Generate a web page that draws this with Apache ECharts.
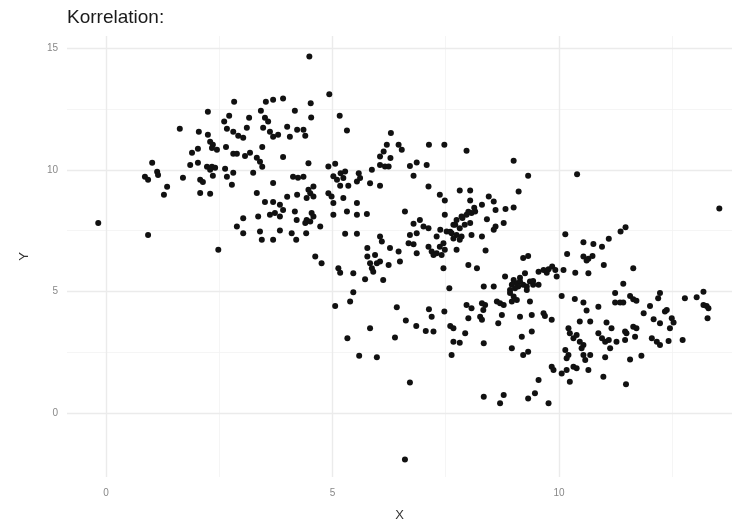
<!DOCTYPE html>
<html>
<head>
<meta charset="utf-8">
<title>Korrelation</title>
<script src="https://cdn.jsdelivr.net/npm/echarts@6/dist/echarts.min.js"></script>
<style>
  html, body { margin: 0; padding: 0; background: #fff; }
  #chart { width: 738px; height: 523px; }
</style>
</head>
<body>
<div id="chart"></div>
<script>
// points, grouped by area of the plot ([x, y])
const upperLeft = [
  [2.83,12.8],[2.25,12.39],[3.53,12.8],[3.69,12.88],[3.91,12.93],[3.42,12.43],[4.17,12.43],[2.72,12.22],
  [3.16,12.14],[1.63,11.69],[2.05,11.56],[2.25,11.44],[2.61,11.98],[2.67,11.69],[2.81,11.56],[2.92,11.4],
  [3.03,11.32],[3.11,11.73],[3.51,12.14],[3.58,11.98],[3.47,11.73],[3.62,11.56],[3.69,11.36],[3.8,11.44],
  [4.0,11.77],[4.06,11.36],[4.22,11.65],[2.3,11.15],[2.36,11.03],[2.45,10.82],[2.34,10.9],[2.65,10.94],
  [3.45,10.94],[2.03,10.86],[1.9,10.7],[2.81,10.66],[2.89,10.66],[3.07,10.57],[3.18,10.7],[3.33,10.49],
  [3.4,10.33],[3.45,10.12],[3.25,9.88],[3.91,10.53],[1.02,10.29],[1.13,9.92],[1.15,9.79],[0.86,9.71],
  [0.93,9.59],[1.86,10.2],[2.03,10.29],[2.23,10.12],[2.34,10.12],[2.41,10.08],[2.3,10.0],[2.63,10.04],
  [2.81,9.88],[2.67,9.71],[2.36,9.75],[1.7,9.67],[2.08,9.59],[2.14,9.5],[2.78,9.38],[3.69,9.46],
  [4.13,9.71],[4.24,9.67],[1.35,9.3],[1.28,8.97],[2.08,9.05],[2.3,9.01],[3.33,9.05],[3.51,8.68],
  [3.69,8.68],[3.84,8.56],[4.0,8.89],[4.22,8.97]
];
const upperMiddle = [
  [4.49,14.66],[4.93,13.11],[4.52,12.74],[4.53,12.15],[5.16,12.22],[5.32,11.62],[4.36,11.65],[4.4,11.4],
  [4.47,10.27],[6.29,11.51],[6.2,11.03],[6.13,10.75],[6.05,10.55],[6.46,11.03],[6.53,10.82],[6.28,10.48],
  [6.05,10.2],[6.16,10.14],[6.24,10.14],[5.87,10.0],[5.83,9.45],[6.05,9.34],[4.91,10.14],[5.06,10.25],
  [4.36,9.71],[5.02,9.73],[5.18,9.86],[5.28,9.93],[5.24,9.66],[5.1,9.59],[5.58,9.86],[5.61,9.66],
  [5.17,9.34],[5.35,9.34],[5.54,9.52],[4.58,9.31],[4.47,9.18],[4.51,9.04],[4.58,8.9],[4.43,8.84],
  [4.91,9.04],[4.98,8.9],[5.02,8.63],[5.24,8.84],[5.54,8.63],[6.71,10.16],[6.86,10.3],[7.08,10.2],
  [6.79,9.75],[7.13,11.03],[7.47,11.03],[7.96,10.78],[7.12,9.31],[7.37,8.97],[7.48,8.74],[7.81,9.15],
  [8.04,9.15],[8.04,8.74]
];
const rightMiddle = [
  [9.0,10.37],[9.32,9.75],[10.4,9.82],[13.54,8.41],[9.11,9.11],[8.45,8.9],[8.3,8.56],[8.56,8.7],
  [8.6,8.35],[8.82,8.39],[9.0,8.45],[8.41,7.97],[8.6,7.67],[8.56,7.53],[8.78,7.81],[8.3,7.26],
  [8.38,6.68],[10.14,7.35],[11.36,7.46],[11.47,7.64],[11.1,7.16],[10.54,7.02],[10.76,6.95],[10.95,6.84],
  [10.18,6.54],[10.54,6.43],[10.65,6.34],[10.74,6.46],[10.61,6.27],[10.99,6.09],[11.64,5.95],[9.21,6.37],
  [9.32,6.46],[9.25,5.75],[9.55,5.81],[9.66,5.88],[9.77,5.91],[9.85,6.02],[9.92,5.88],[9.73,5.77],
  [9.95,5.61],[10.1,5.88],[10.36,5.77],[10.65,5.75],[8.81,5.61],[9.0,5.47],[9.07,5.34],[9.14,5.41],
  [9.21,5.27],[8.96,5.27],[9.1,5.2],[9.03,5.13],[9.29,5.2],[9.43,5.27],[9.55,5.27],[9.36,5.41],
  [8.56,5.2],[8.34,5.2],[9.14,5.56],[9.29,5.06],[9.43,5.43],[8.92,5.06]
];
const lowerRight = [
  [11.42,5.31],[10.06,4.81],[10.35,4.69],[10.54,4.54],[10.61,4.21],[10.87,4.37],[11.24,4.93],[11.24,4.54],
  [11.35,4.54],[11.42,4.54],[11.57,4.81],[11.64,4.68],[11.71,4.62],[12.23,4.93],[12.19,4.72],[12.01,4.4],
  [12.34,4.17],[12.78,4.72],[13.04,4.76],[13.19,4.99],[13.19,4.44],[13.26,4.4],[13.3,4.31],[13.28,3.9],
  [8.3,4.51],[8.37,4.44],[8.33,4.24],[8.26,3.96],[8.3,3.83],[8.63,4.58],[8.7,4.51],[8.78,4.44],
  [8.74,4.03],[8.66,3.69],[8.92,4.93],[9.0,4.79],[9.07,4.65],[8.96,4.58],[9.36,4.58],[9.14,3.96],
  [9.4,4.03],[9.66,4.1],[9.69,3.99],[9.84,3.83],[9.18,3.14],[9.4,3.35],[8.34,2.87],[8.96,2.66],
  [9.21,2.39],[9.32,2.52],[10.21,3.49],[10.24,3.28],[10.32,3.07],[10.39,3.21],[10.46,2.93],[10.54,2.8],
  [10.5,2.66],[10.14,2.59],[10.21,2.39],[10.17,2.25],[10.54,2.39],[10.58,2.18],[10.69,2.39],[9.84,1.9],
  [9.88,1.77],[10.06,1.63],[10.17,1.77],[10.32,1.9],[10.39,1.84],[10.24,1.29],[10.65,1.77],[10.46,3.76],
  [10.69,3.76],[10.87,3.28],[10.95,3.07],[11.02,2.93],[11.1,3.0],[11.05,3.72],[11.16,3.49],[11.13,2.66],
  [11.02,2.29],[11.27,2.93],[11.46,3.0],[11.49,3.28],[11.64,3.55],[11.71,3.49],[11.68,3.14],[11.46,3.35],
  [10.98,1.49],[11.57,2.2],[11.82,2.35],[11.48,1.18],[11.87,4.1],[12.09,3.86],[12.23,3.69],[12.05,3.07],
  [12.16,2.93],[12.23,2.8],[12.42,2.96],[12.38,4.24],[12.49,3.9],[12.53,3.72],[12.45,3.49],[12.73,3.0],
  [9.32,0.6],[9.47,0.81],[9.77,0.4],[8.7,0.4],[8.78,0.74],[8.34,0.67],[9.55,1.36]
];
const centre = [
  [5.59,2.35],[5.98,2.29],[7.63,2.39],[6.71,1.25],[6.6,-1.91],
  [4.54,8.22],[4.58,8.08],[4.43,7.94],[4.4,7.81],[4.51,7.87],[4.73,7.67],[4.42,7.39],[5.02,8.15],
  [5.32,8.28],[5.54,8.15],[5.76,8.18],[5.28,7.37],[5.54,7.37],[6.05,7.26],[6.09,7.05],[5.77,6.78],
  [5.77,6.43],[5.94,6.5],[5.83,6.16],[5.98,6.16],[6.05,6.23],[5.87,5.95],[5.9,5.81],[6.27,6.78],
  [6.46,6.64],[6.49,6.23],[6.24,6.09],[4.62,6.43],[4.76,6.16],[5.13,5.95],[5.17,5.77],[5.46,5.75],
  [5.72,5.5],[6.12,5.47],[5.46,4.97],[5.39,4.58],[5.06,4.4],[6.6,8.28],[6.79,7.78],[6.93,7.94],
  [7.01,7.67],[7.12,7.6],[6.86,7.39],[6.71,7.32],[6.68,6.98],[6.79,6.94],[6.86,6.57],[7.12,6.84],
  [7.19,6.64],[7.3,7.26],[7.37,6.84],[7.45,6.98],[7.48,6.71],[7.3,6.57],[7.23,6.5],[7.41,6.5],
  [7.48,8.15],[7.74,7.94],[7.85,8.08],[7.96,8.15],[8.07,8.22],[8.15,8.28],[7.92,7.74],[8.04,7.81],
  [7.67,7.74],[7.81,7.6],[7.52,7.46],[7.63,7.39],[7.74,7.32],[7.85,7.26],[7.81,7.12],[7.67,7.18],
  [8.07,7.32],[7.74,6.71],[7.45,5.95],[8.0,6.09],[8.19,5.95],[7.58,5.13],[6.42,4.35],[6.62,3.8],
  [6.85,3.58],[7.06,3.37],[7.23,3.35],[7.13,4.27],[7.19,3.96],[7.47,4.17],[6.38,3.1],[5.83,3.49],
  [5.33,3.07],[7.67,2.93],[7.81,2.89],[7.93,3.28],[7.6,3.58],[7.67,3.49],[7.96,4.44],[8.07,4.31],
  [8.0,3.9],[7.71,7.74],[7.87,8.02],[8.0,8.27],[8.13,8.44],[7.6,7.45],[7.38,7.53]
];
const lowerLeft = [
  [-0.17,7.81],[0.93,7.32],[2.48,6.71],[2.89,7.67],[3.03,8.01],[3.03,7.39],[3.36,8.08],[3.4,7.46],
  [3.44,7.12],[3.69,7.12],[3.84,7.5],[3.62,8.15],[3.73,8.22],[3.84,8.08],[3.91,8.35],[4.17,8.28],
  [4.21,7.94],[4.1,7.39],[4.2,7.12]
];

const xTicks = [0, 5, 10];
const yTicks = [0, 5, 10, 15];
const xMinor = [2.5, 7.5, 12.5];
const yMinor = [2.5, 7.5, 12.5];

const points = [].concat(upperLeft, upperMiddle, rightMiddle, lowerRight, centre, lowerLeft);

const gridLines = (xs, ys) =>
  xs.map(v => ({ xAxis: v })).concat(ys.map(v => ({ yAxis: v })));

const chart = echarts.init(document.getElementById('chart'));
const option = {
  animation: false,
  backgroundColor: '#fff',
  textStyle: { fontFamily: 'Liberation Sans, Arial, sans-serif' },
  title: {
    text: 'Korrelation:',
    left: 62,
    top: 3,
    textStyle: { fontSize: 19, fontWeight: 'normal', color: '#1a1a1a' }
  },
  grid: { left: 67, right: 6, top: 36, bottom: 46, outerBoundsMode: 'none' },
  xAxis: {
    type: 'value',
    min: -0.86,
    max: 13.82,
    name: 'X',
    nameLocation: 'middle',
    nameGap: 32,
    nameTextStyle: { fontSize: 13, color: '#333' },
    axisLine: { show: false },
    axisTick: { show: false },
    splitLine: { show: false },
    axisLabel: { customValues: xTicks, color: '#888', fontSize: 10, margin: 11 }
  },
  yAxis: {
    type: 'value',
    min: -2.63,
    max: 15.5,
    name: 'Y',
    nameLocation: 'middle',
    nameGap: 36,
    nameTextStyle: { fontSize: 13, color: '#333' },
    axisLine: { show: false },
    axisTick: { show: false },
    splitLine: { show: false },
    axisLabel: { customValues: yTicks, color: '#888', fontSize: 10, margin: 9 }
  },
  series: [
    {
      // minor grid
      type: 'scatter',
      data: [],
      z: 1,
      silent: true,
      markLine: {
        z: 1,
        silent: true,
        symbol: ['none', 'none'],
        label: { show: false },
        lineStyle: { color: '#f3f3f3', width: 0.8, type: 'solid' },
        data: gridLines(xMinor, yMinor)
      }
    },
    {
      // major grid
      type: 'scatter',
      data: [],
      z: 1,
      silent: true,
      markLine: {
        z: 1,
        silent: true,
        symbol: ['none', 'none'],
        label: { show: false },
        lineStyle: { color: '#ebebeb', width: 1.4, type: 'solid' },
        data: gridLines(xTicks, yTicks)
      }
    },
    {
      type: 'scatter',
      z: 5,
      symbolSize: 6,
      itemStyle: { color: '#111', opacity: 1 },
      data: points
    }
  ]
};
chart.setOption(option);
</script>
</body>
</html>
